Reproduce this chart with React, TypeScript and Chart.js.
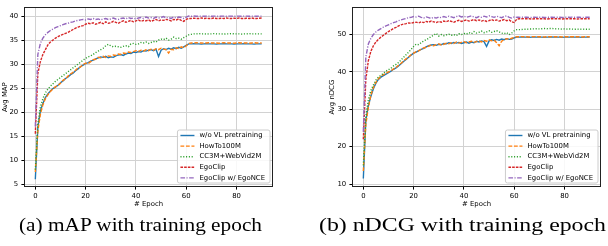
import React, { useEffect, useRef } from 'react';
import { Chart, registerables } from 'chart.js';

Chart.register(...registerables);

const epochs = [
  0, 1, 2, 3, 4, 5, 6, 7, 8, 9, 10, 11, 12, 13, 14, 15, 16, 17, 18, 19,
  20, 21, 22, 23, 24, 25, 26, 27, 28, 29, 30, 31, 32, 33, 34, 35, 36, 37, 38, 39,
  40, 41, 42, 43, 44, 45, 46, 47, 48, 49, 50, 51, 52, 53, 54, 55, 56, 57, 58, 59,
  60, 61, 62, 63, 64, 65, 66, 67, 68, 69, 70, 71, 72, 73, 74, 75, 76, 77, 78, 79,
  80, 81, 82, 83, 84, 85, 86, 87, 88, 89, 90,
];

const xTicks = [0, 20, 40, 60, 80];
const mapTicks = [5, 10, 15, 20, 25, 30, 35, 40];
const ndcgTicks = [10, 20, 30, 40, 50];

const seriesLabels = ['w/o VL pretraining', 'HowTo100M', 'CC3M+WebVid2M', 'EgoClip', 'EgoClip w/ EgoNCE'];
const seriesColors = ['#1f77b4', '#ff7f0e', '#2ca02c', '#d62728', '#9467bd'];
const seriesDashes = [[], [3.8, 1.7], [1.1, 1.7], [2.6, 1.1], [4.6, 1.5, 1.1, 1.5]];

const captions = ['(a) mAP with training epoch', '(b) nDCG with training epoch'];

// ---- mAP ----
const mapWoVL = [
  6.0, 16.8, 20.2, 21.8, 23.0, 23.8, 24.4, 24.9, 25.2, 25.6,
  26.1, 26.5, 27.0, 27.3, 27.8, 28.1, 28.6, 29.0, 29.5, 29.8,
  30.1, 30.3, 30.6, 30.8, 31.1, 31.3, 31.5, 31.4, 31.6, 31.3,
  31.5, 31.4, 31.7, 31.9, 32.0, 31.8, 32.1, 32.3, 32.2, 32.5,
  32.4, 32.6, 32.5, 32.8, 32.7, 32.9, 33.0, 32.8, 33.1, 31.6,
  32.9, 33.2, 33.0, 33.3, 33.1, 33.4, 33.2, 33.5, 33.3, 33.6,
  33.9, 34.2, 34.2, 34.25, 34.2, 34.2, 34.15, 34.2, 34.25, 34.2,
  34.2, 34.2, 34.15, 34.2, 34.2, 34.25, 34.2, 34.2, 34.2, 34.15,
  34.2, 34.2, 34.2, 34.25, 34.2, 34.2, 34.2, 34.15, 34.2, 34.2,
  34.2,
];
const mapHowTo = [
  7.5, 16.0, 19.5, 21.5, 22.8, 23.6, 24.3, 24.8, 25.3, 25.5,
  26.0, 26.6, 26.9, 27.5, 27.9, 28.3, 28.7, 29.2, 29.4, 29.9,
  30.2, 30.1, 30.5, 30.9, 31.0, 31.4, 31.3, 31.6, 31.4, 31.7,
  31.6, 31.9, 31.8, 32.1, 32.0, 32.3, 32.2, 32.5, 32.4, 32.6,
  32.8, 32.6, 32.9, 32.7, 33.0, 32.8, 33.1, 32.9, 33.2, 33.0,
  33.3, 33.1, 33.0, 32.3, 33.1, 33.0, 33.4, 33.2, 33.6, 33.4,
  33.8, 34.3, 34.4, 34.4, 34.45, 34.4, 34.4, 34.35, 34.4, 34.45,
  34.4, 34.4, 34.4, 34.35, 34.4, 34.45, 34.4, 34.4, 34.4, 34.35,
  34.4, 34.45, 34.4, 34.4, 34.4, 34.35, 34.4, 34.45, 34.4, 34.4,
  34.4,
];
const mapCC3M = [
  8.0, 17.5, 21.0, 22.8, 24.0, 24.8, 25.4, 25.9, 26.4, 26.8,
  27.2, 27.6, 28.0, 28.4, 28.8, 29.2, 29.6, 30.0, 30.4, 30.8,
  31.2, 31.5, 31.7, 32.0, 32.4, 32.7, 33.0, 33.3, 33.8, 34.1,
  33.8, 33.6, 33.7, 33.6, 33.5, 33.7, 33.8, 33.6, 34.2, 34.3,
  34.1, 34.2, 34.5, 34.4, 34.6, 34.3, 34.5, 34.7, 34.6, 35.0,
  35.2, 35.1, 35.4, 35.0, 35.2, 35.6, 35.3, 35.4, 35.2, 35.5,
  35.8, 36.1, 36.2, 36.3, 36.3, 36.35, 36.3, 36.3, 36.25, 36.3,
  36.3, 36.35, 36.3, 36.3, 36.3, 36.25, 36.3, 36.3, 36.35, 36.3,
  36.3, 36.3, 36.25, 36.3, 36.3, 36.35, 36.3, 36.3, 36.3, 36.3,
  36.3,
];
const mapEgoClip = [
  15.5, 28.0, 30.5, 32.0, 33.0, 34.0, 34.6, 35.0, 35.4, 35.7,
  36.0, 36.2, 36.4, 36.6, 36.9, 37.2, 37.5, 37.7, 37.9, 38.0,
  38.3, 38.5, 38.4, 38.6, 38.3, 38.5, 38.7, 38.4, 38.8, 38.5,
  38.6, 38.9, 38.7, 38.5, 38.8, 39.0, 38.7, 38.9, 39.1, 38.8,
  39.0, 39.2, 38.9, 39.1, 39.0, 39.2, 38.9, 39.1, 39.3, 39.0,
  39.2, 39.1, 39.3, 39.2, 39.0, 39.3, 39.2, 39.4, 39.1, 38.9,
  39.3, 39.5, 39.5, 39.55, 39.5, 39.5, 39.6, 39.5, 39.55, 39.5,
  39.5, 39.6, 39.5, 39.5, 39.55, 39.5, 39.6, 39.5, 39.5, 39.55,
  39.5, 39.6, 39.5, 39.5, 39.55, 39.5, 39.6, 39.5, 39.5, 39.55,
  39.6,
];
const mapEgoNCE = [
  17.0, 32.0, 34.3, 35.4, 36.1, 36.6, 37.0, 37.3, 37.6, 37.8,
  38.0, 38.2, 38.4, 38.5, 38.7, 38.8, 39.0, 39.1, 39.2, 39.3,
  39.2, 39.4, 39.3, 39.5, 39.3, 39.4, 39.2, 39.4, 39.5, 39.3,
  39.4, 39.6, 39.4, 39.3, 39.5, 39.6, 39.4, 39.7, 39.5, 39.6,
  39.4, 39.6, 39.7, 39.5, 39.8, 39.6, 39.7, 39.5, 39.8, 39.6,
  39.7, 39.9, 39.6, 39.7, 39.5, 39.8, 39.6, 39.8, 39.7, 39.5,
  39.8, 40.0, 39.95, 40.0, 39.95, 40.0, 40.0, 39.95, 40.0, 40.0,
  39.95, 40.0, 40.0, 39.95, 40.0, 40.0, 39.95, 40.0, 40.0, 39.95,
  40.0, 40.0, 39.95, 40.0, 40.0, 39.95, 40.0, 40.0, 39.95, 40.0,
  40.0,
];

// ---- nDCG ----
const ndcgWoVL = [
  11.5, 27.0, 31.0, 33.5, 35.5, 37.0, 38.0, 38.6, 39.0, 39.4,
  39.8, 40.2, 40.7, 41.1, 41.6, 42.2, 42.8, 43.3, 43.9, 44.5,
  45.0, 45.3, 45.7, 46.0, 46.3, 46.7, 47.0, 47.2, 47.3, 47.1,
  47.4, 47.3, 47.6, 47.5, 47.8, 47.6, 47.9, 47.7, 47.9, 47.6,
  47.8, 48.0, 47.7, 48.0, 47.8, 48.2, 48.0, 48.3, 48.1, 46.8,
  48.3, 48.6, 48.4, 48.7, 48.5, 48.8, 48.6, 48.9, 48.7, 48.8,
  49.1, 49.3, 49.3, 49.35, 49.3, 49.3, 49.25, 49.3, 49.35, 49.3,
  49.3, 49.3, 49.25, 49.3, 49.3, 49.35, 49.3, 49.3, 49.3, 49.25,
  49.3, 49.3, 49.3, 49.35, 49.3, 49.3, 49.3, 49.25, 49.3, 49.3,
  49.3,
];
const ndcgHowTo = [
  13.5, 26.0, 30.5, 33.8, 35.8, 37.2, 38.2, 38.8, 39.3, 39.6,
  40.0, 40.3, 40.8, 41.2, 41.8, 42.3, 42.9, 43.5, 44.0, 44.6,
  45.0, 45.4, 45.6, 46.1, 46.4, 46.6, 46.9, 47.2, 47.0, 47.3,
  47.5, 47.2, 47.4, 47.7, 47.5, 47.8, 47.6, 48.0, 47.7, 47.9,
  48.1, 47.8, 48.0, 48.2, 47.9, 48.1, 48.3, 48.0, 48.4, 48.2,
  48.6, 48.3, 48.5, 47.8, 47.0, 48.2, 48.6, 48.9, 48.7, 49.0,
  49.2, 49.4, 49.4, 49.45, 49.4, 49.4, 49.35, 49.4, 49.45, 49.4,
  49.4, 49.4, 49.35, 49.4, 49.4, 49.45, 49.4, 49.4, 49.4, 49.35,
  49.4, 49.4, 49.4, 49.45, 49.4, 49.4, 49.4, 49.35, 49.4, 49.4,
  49.4,
];
const ndcgCC3M = [
  15.0, 28.0, 32.5, 35.0, 36.5, 37.8, 38.6, 39.1, 39.6, 40.2,
  40.6, 41.0, 41.6, 42.0, 42.5, 43.2, 43.9, 44.6, 45.3, 46.0,
  46.8, 47.4, 47.3, 47.8, 48.3, 48.6, 49.0, 49.5, 49.8, 50.3,
  49.6, 50.0, 49.7, 49.9, 50.1, 49.8, 50.0, 49.7, 50.2, 50.0,
  50.3, 50.1, 50.5, 50.2, 50.8, 50.4, 50.6, 50.9, 50.5, 50.7,
  51.0, 50.6, 50.8, 51.0, 50.7, 50.4, 50.2, 50.5, 50.0, 50.4,
  51.0, 51.3, 51.3, 51.35, 51.4, 51.4, 51.45, 51.5, 51.5, 51.55,
  51.5, 51.55, 51.6, 51.55, 51.6, 51.6, 51.55, 51.5, 51.5, 51.45,
  51.5, 51.45, 51.5, 51.45, 51.4, 51.45, 51.4, 51.45, 51.4, 51.4,
  51.4,
];
const ndcgEgoClip = [
  22.0, 38.0, 43.0, 45.5, 47.0, 48.0, 48.7, 49.3, 49.8, 50.3,
  50.8, 51.2, 51.6, 51.9, 52.3, 52.6, 52.8, 52.9, 53.1, 53.0,
  53.2, 53.3, 53.1, 53.4, 53.2, 53.5, 53.3, 53.6, 53.4, 53.2,
  53.5, 53.3, 53.6, 53.4, 53.7, 53.5, 53.3, 53.6, 53.8, 53.5,
  53.7, 53.9, 53.6, 53.8, 54.0, 53.7, 53.9, 53.6, 53.8, 53.5,
  53.7, 54.0, 53.7, 53.9, 53.6, 53.8, 54.0, 53.7, 53.9, 53.4,
  53.2, 54.1, 54.2, 54.2, 54.25, 54.2, 54.2, 54.15, 54.2, 54.25,
  54.2, 54.2, 54.2, 54.15, 54.2, 54.25, 54.2, 54.2, 54.2, 54.15,
  54.2, 54.25, 54.2, 54.2, 54.2, 54.15, 54.2, 54.25, 54.2, 54.2,
  54.2,
];
const ndcgEgoNCE = [
  24.0, 44.0, 47.5, 49.0, 50.0, 50.7, 51.2, 51.6, 52.0, 52.3,
  52.6, 52.9, 53.2, 53.4, 53.7, 53.9, 54.1, 54.3, 54.5, 54.6,
  54.8, 54.7, 54.9, 54.6, 54.4, 54.7, 54.5, 54.3, 54.6, 54.4,
  54.7, 54.5, 54.8, 54.6, 54.9, 54.7, 54.5, 54.8, 55.0, 54.7,
  54.9, 54.6, 54.8, 55.0, 54.7, 54.5, 54.8, 54.6, 54.9, 54.7,
  55.0, 54.8, 54.6, 54.9, 54.7, 54.5, 54.8, 55.0, 54.6, 54.4,
  54.7, 54.6, 54.6, 54.65, 54.6, 54.6, 54.55, 54.6, 54.65, 54.6,
  54.6, 54.6, 54.55, 54.6, 54.6, 54.65, 54.6, 54.6, 54.6, 54.55,
  54.6, 54.6, 54.6, 54.65, 54.6, 54.6, 54.6, 54.55, 54.6, 54.6,
  54.6,
];

const FONT_FAMILY = '"DejaVu Sans", sans-serif';
const FONT_SIZE = 6.9;

const frameLegendPlugin = {
  id: 'frameLegend',
  afterDatasetsDraw(chart: any) {
    const { ctx, chartArea } = chart;
    const l = Math.round(chartArea.left) + 0.5;
    const t = Math.round(chartArea.top) + 0.5;
    const r = Math.round(chartArea.right) - 0.5;
    const b = Math.round(chartArea.bottom) - 0.5;
    ctx.save();
    ctx.setLineDash([]);
    ctx.strokeStyle = '#222';
    ctx.lineWidth = 1;
    ctx.strokeRect(l, t, r - l, b - t);

    ctx.font = `${FONT_SIZE}px ${FONT_FAMILY}`;
    const datasets = chart.data.datasets;
    let maxW = 0;
    datasets.forEach((d: any) => {
      maxW = Math.max(maxW, ctx.measureText(d.label).width);
    });
    const rowH = 10.6;
    const padL = 3, handle = 14, gap = 5, padR = 5;
    const boxW = padL + handle + gap + maxW + padR;
    const boxH = rowH * datasets.length;
    const bx = chartArea.right - 3 - boxW;
    const by = chartArea.bottom - 4 - boxH;
    ctx.beginPath();
    const rad = 2;
    ctx.moveTo(bx + rad, by);
    ctx.lineTo(bx + boxW - rad, by);
    ctx.arcTo(bx + boxW, by, bx + boxW, by + rad, rad);
    ctx.lineTo(bx + boxW, by + boxH - rad);
    ctx.arcTo(bx + boxW, by + boxH, bx + boxW - rad, by + boxH, rad);
    ctx.lineTo(bx + rad, by + boxH);
    ctx.arcTo(bx, by + boxH, bx, by + boxH - rad, rad);
    ctx.lineTo(bx, by + rad);
    ctx.arcTo(bx, by, bx + rad, by, rad);
    ctx.closePath();
    ctx.fillStyle = 'rgba(255,255,255,0.85)';
    ctx.fill();
    ctx.strokeStyle = '#cccccc';
    ctx.lineWidth = 1;
    ctx.stroke();

    datasets.forEach((d: any, i: number) => {
      const cy = by + 5.5 + i * rowH;
      ctx.beginPath();
      ctx.setLineDash(d.borderDash || []);
      ctx.strokeStyle = d.borderColor;
      ctx.lineWidth = d.borderWidth;
      ctx.moveTo(bx + padL, cy);
      ctx.lineTo(bx + padL + handle, cy);
      ctx.stroke();
      ctx.setLineDash([]);
      ctx.fillStyle = '#000';
      ctx.textAlign = 'left';
      ctx.textBaseline = 'middle';
      ctx.fillText(d.label, bx + padL + handle + gap, cy);
    });
    ctx.restore();
  },
};

function makeConfig(
  series: number[][],
  yTicks: number[],
  yMin: number,
  yMax: number,
  yTitle: string,
  yWidth: number,
  yTitlePad: number,
  padRight: number,
): any {
  const font = { family: FONT_FAMILY, size: FONT_SIZE };
  const grid = { color: '#d2d2d2', lineWidth: 1, tickLength: 2.6, tickColor: '#000', tickWidth: 1 };
  return {
    type: 'line',
    data: {
      datasets: series.map((s, i) => ({
        label: seriesLabels[i],
        data: s.map((v, j) => ({ x: epochs[j], y: v })),
        borderColor: seriesColors[i],
        backgroundColor: seriesColors[i],
        borderWidth: 1.4,
        borderDash: seriesDashes[i],
        pointRadius: 0,
        tension: 0,
        fill: false,
        order: series.length - 1 - i,
      })),
    },
    options: {
      animation: false,
      responsive: false,
      devicePixelRatio: 1,
      layout: { padding: { top: 2, left: 0, right: padRight, bottom: 0 } },
      plugins: { legend: { display: false }, tooltip: { enabled: false } },
      scales: {
        x: {
          type: 'linear',
          min: -4.5,
          max: 94.5,
          afterBuildTicks: (s: any) => {
            s.ticks = xTicks.map((v) => ({ value: v }));
          },
          afterFit: (s: any) => {
            s.height = 25;
          },
          ticks: { font, color: '#000', padding: 2.4, maxRotation: 0, autoSkip: false },
          grid,
          border: { display: false },
          title: { display: true, text: '# Epoch', font, color: '#000', padding: { top: 0, bottom: 3.4 } },
        },
        y: {
          type: 'linear',
          min: yMin,
          max: yMax,
          afterBuildTicks: (s: any) => {
            s.ticks = yTicks.map((v) => ({ value: v }));
          },
          afterFit: (s: any) => {
            s.width = yWidth;
          },
          ticks: { font, color: '#000', padding: 3.2, autoSkip: false },
          grid,
          border: { display: false },
          title: { display: true, text: yTitle, font, color: '#000', padding: { top: yTitlePad, bottom: 0 } },
        },
      },
    },
    plugins: [frameLegendPlugin],
  };
}

export default function App() {
  const leftRef = useRef<HTMLCanvasElement>(null);
  const rightRef = useRef<HTMLCanvasElement>(null);

  useEffect(() => {
    const c1 = new Chart(
      leftRef.current as HTMLCanvasElement,
      makeConfig([mapWoVL, mapHowTo, mapCC3M, mapEgoClip, mapEgoNCE], mapTicks, 4.39, 41.82, 'Avg MAP', 24, 0.9, 27),
    );
    const c2 = new Chart(
      rightRef.current as HTMLCanvasElement,
      makeConfig([ndcgWoVL, ndcgHowTo, ndcgCC3M, ndcgEgoClip, ndcgEgoNCE], ndcgTicks, 9.22, 57.27, 'Avg nDCG', 52, 27.9, 7),
    );
    return () => {
      c1.destroy();
      c2.destroy();
    };
  }, []);

  const captionFont = '"Liberation Serif", "Times New Roman", serif';

  return (
    <div style={{ position: 'absolute', left: 0, top: 0, width: 608, height: 246, background: '#fff', overflow: 'hidden' }}>
      <canvas
        ref={leftRef}
        width={300}
        height={212}
        style={{ position: 'absolute', left: 0, top: 0, width: 300, height: 212 }}
      />
      <canvas
        ref={rightRef}
        width={308}
        height={212}
        style={{ position: 'absolute', left: 300, top: 0, width: 308, height: 212 }}
      />
      <svg width={608} height={246} style={{ position: 'absolute', left: 0, top: 0, pointerEvents: 'none' }}>
        <text x={19} y={230.5} fontFamily={captionFont} fontSize={18.5} textLength={243} lengthAdjust="spacingAndGlyphs" fill="#000">
          {captions[0]}
        </text>
        <text x={319} y={230.5} fontFamily={captionFont} fontSize={18.5} textLength={287} lengthAdjust="spacingAndGlyphs" fill="#000">
          {captions[1]}
        </text>
      </svg>
    </div>
  );
}
